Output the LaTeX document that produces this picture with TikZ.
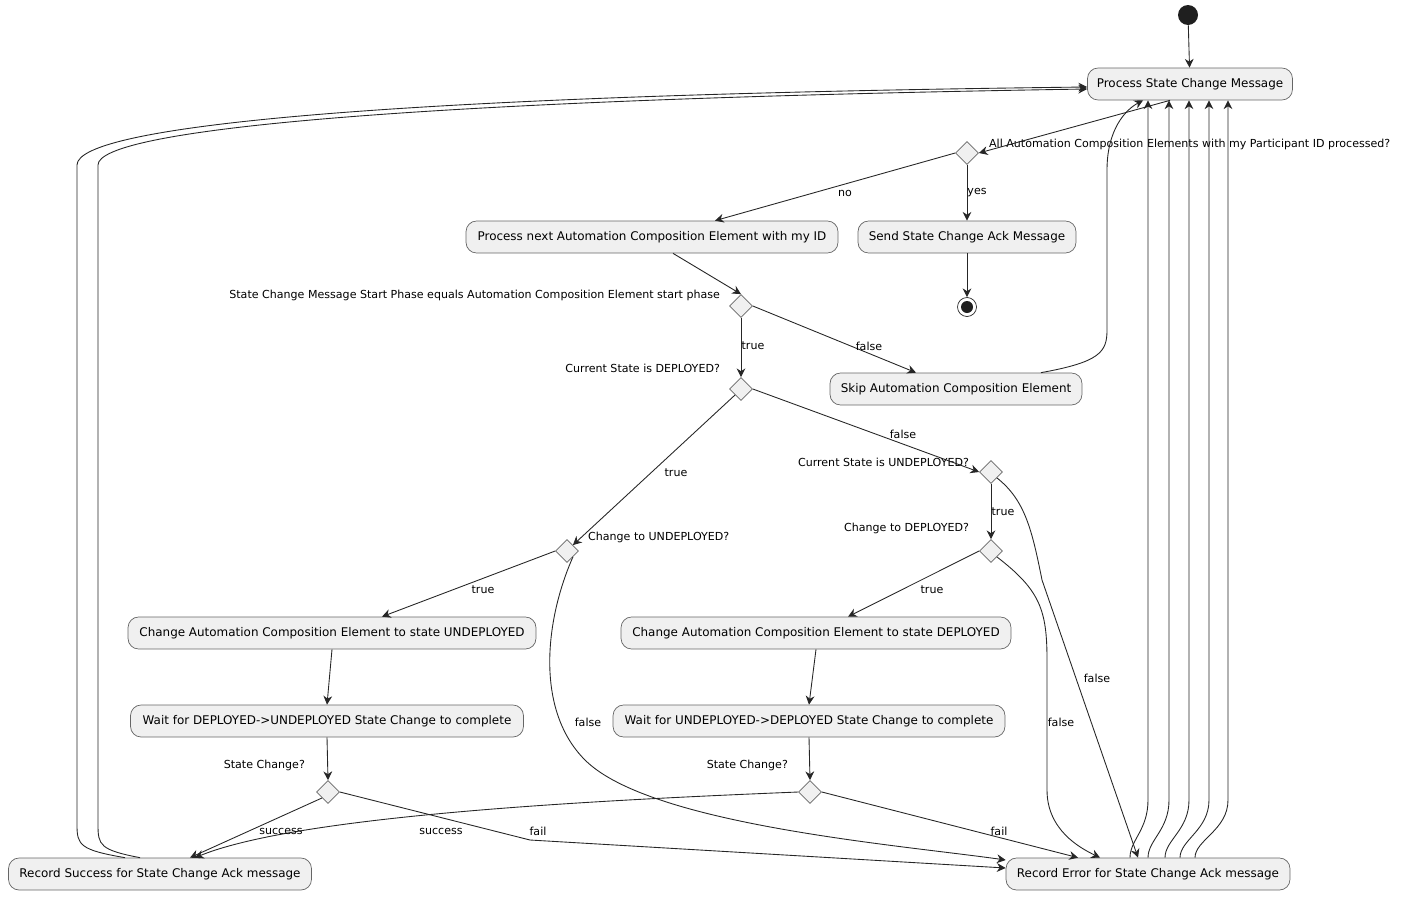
\documentclass[tikz,border=0pt]{standalone}
\usepackage{fontspec}
\setmainfont{DejaVu Sans}
\usetikzlibrary{shapes.geometric,arrows.meta}
\begin{document}
\begin{tikzpicture}[x=0.02cm,y=-0.02cm,
  act/.style={draw=black!60, fill=black!6, rounded corners=6pt, minimum height=0.64cm, inner sep=0pt, font=\fontsize{6.8}{8}\selectfont},
  dec/.style={diamond, draw=black!60, fill=black!6, minimum size=0.46cm, inner sep=0pt},
  lbl/.style={font=\fontsize{6.3}{7}\selectfont, inner sep=1pt},
  flow/.style={-{Stealth[length=5pt,width=5pt]}, draw=black!85, line width=0.5pt}]
\useasboundingbox (0,0) rectangle (1402,896);
% actions
\node[circle, fill=black!88, minimum size=0.4cm, inner sep=0pt] (start) at (1188,15) {};
\node[act, minimum width=4.1cm] (pscm) at (1190,84) {Process State Change Message};
\node[act, minimum width=7.44cm] (pnace) at (652,237) {Process next Automation Composition Element with my ID};
\node[act, minimum width=4.36cm] (sscam) at (967,237) {Send State Change Ack Message};
\node[circle, draw=black!85, minimum size=0.38cm, inner sep=0pt] (stop) at (967,307) {};
\node[circle, fill=black!88, minimum size=0.24cm, inner sep=0pt] at (stop) {};
\node[act, minimum width=5.04cm] (skip) at (956,389) {Skip Automation Composition Element};
\node[act, minimum width=8.16cm] (cau) at (332,633) {Change Automation Composition Element to state UNDEPLOYED};
\node[act, minimum width=7.8cm] (cad) at (816,633) {Change Automation Composition Element to state DEPLOYED};
\node[act, minimum width=7.86cm] (wu) at (327,721) {Wait for DEPLOYED->UNDEPLOYED State Change to complete};
\node[act, minimum width=7.84cm] (wd) at (809,721) {Wait for UNDEPLOYED->DEPLOYED State Change to complete};
\node[act, minimum width=6.06cm] (rs) at (160,874) {Record Success for State Change Ack message};
\node[act, minimum width=5.68cm] (re) at (1148,874) {Record Error for State Change Ack message};
% decisions
\node[dec] (d1) at (967,153) {};
\node[dec] (d2) at (741,306) {};
\node[dec] (d3) at (741,389) {};
\node[dec] (d4) at (991,472) {};
\node[dec] (d5) at (567,551) {};
\node[dec] (d6) at (991,551) {};
\node[dec] (d7) at (328,792) {};
\node[dec] (d8) at (810,792) {};
\node[lbl, anchor=west] (q1) at (987,144) {All Automation Composition Elements with my Participant ID processed?};
\node[lbl, anchor=east] (q2) at (722,295) {State Change Message Start Phase equals Automation Composition Element start phase};
\node[lbl, anchor=east] (q3) at (722,368) {Current State is DEPLOYED?};
\node[lbl, anchor=east] (q4) at (971,462) {Current State is UNDEPLOYED?};
\node[lbl, anchor=west] (q5) at (586,537) {Change to UNDEPLOYED?};
\node[lbl, anchor=east] (q6) at (971,528) {Change to DEPLOYED?};
\node[lbl, anchor=east] (q7) at (307,765) {State Change?};
\node[lbl, anchor=east] (q8) at (790,765) {State Change?};
% flows
\draw[flow] (start) -- (pscm);
\draw[flow] ([xshift=-0.4cm]pscm.south) -- (d1.east);
\draw[flow] (d1.west) -- ([xshift=1.26cm]pnace.north);
\draw[flow] (d1.south) -- (sscam.north);
\draw[flow] (sscam.south) -- (stop.north);
\draw[flow] ([xshift=0.42cm]pnace.south) -- (d2.north);
\draw[flow] (d2.south) -- (d3.north);
\draw[flow] (d2.east) -- ([xshift=-0.8cm]skip.north);
\draw[flow] ([xshift=1.7cm]skip.north) .. controls (1100,362) and (1107,352) .. (1107,330) -- (1107,170) .. controls (1107,130) and (1125,110) .. ([xshift=-0.94cm]pscm.south);
\draw[flow] (d3.east) -- (d4.west);
\draw[flow] (d3.south west) -- (d5.north east);
\draw[flow] (d4.south) -- (d6.north);
\draw[flow] (d4.south east) .. controls (1025,500) and (1032,530) .. (1042,580) -- ([xshift=-0.2cm]re.north);
\draw[flow] (d5.west) -- ([xshift=1cm]cau.north);
\draw[flow] (d5.south east) .. controls (545,620) and (535,710) .. (585,760) .. controls (650,825) and (900,845) .. ([yshift=0.28cm]re.west);
\draw[flow] (d6.west) -- ([xshift=0.64cm]cad.north);
\draw[flow] (d6.south east) .. controls (1040,590) and (1047,610) .. (1047,660) -- (1047,790) .. controls (1047,830) and (1080,848) .. ([xshift=-0.96cm]re.north);
\draw[flow] (cau.south) -- (wu.north);
\draw[flow] (cad.south) -- (wd.north);
\draw[flow] (wu.south) -- (d7.north);
\draw[flow] (wd.south) -- (d8.north);
\draw[flow] (d7.south west) -- ([xshift=0.6cm]rs.north);
\draw[flow] (d7.east) -- (530,840) -- ([yshift=0.12cm]re.west);
\draw[flow] (d8.west) .. controls (600,800) and (300,815) .. ([xshift=0.7cm]rs.north);
\draw[flow] (d8.east) -- ([xshift=-1.4cm]re.north);
\draw[flow] ([xshift=-0.7cm]rs.north) .. controls (80,850) and (77,845) .. (77,825) -- (77,165) .. controls (77,125) and (400,95) .. ([yshift=-0.06cm]pscm.west);
\draw[flow] ([xshift=-0.4cm]rs.north) .. controls (100,850) and (98,845) .. (98,825) -- (98,165) .. controls (98,130) and (400,100) .. ([yshift=-0.1cm]pscm.west);
\foreach \s/\v in {1130/1148,1148/1169,1165/1189,1180/1209,1195/1228}
  \draw[flow] ([xshift={(\s-1148)*0.02cm}]re.north) .. controls (\s,840) and (\v,830) .. (\v,800) -- (\v,140) .. controls (\v,120) and (\v,110) .. ([xshift={(\v-1190)*0.02cm}]pscm.south);
% edge labels
\node[lbl] (l1) at (845,193) {no};
\node[lbl] (l2) at (977,193) {yes};
\node[lbl] (l3) at (753,346) {true};
\node[lbl] (l4) at (869,346) {false};
\node[lbl] (l5) at (903,434) {false};
\node[lbl] (l6) at (676,473) {true};
\node[lbl] (l7) at (1003,512) {true};
\node[lbl] (l8) at (1097,678) {false};
\node[lbl] (l9) at (483,590) {true};
\node[lbl] (l10) at (932,590) {true};
\node[lbl] (l11) at (588,722) {false};
\node[lbl] (l12) at (1061,722) {false};
\node[lbl] (l13) at (281,831) {success};
\node[lbl] (l14) at (538,831) {fail};
\node[lbl] (l15) at (441,831) {success};
\node[lbl] (l16) at (999,831) {fail};
\end{tikzpicture}
\end{document}
